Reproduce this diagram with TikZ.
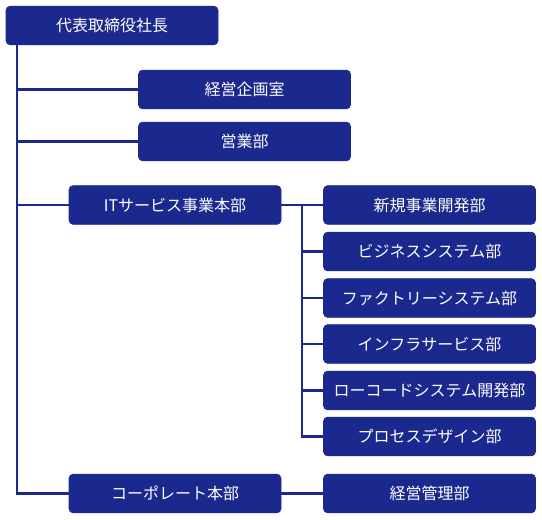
\documentclass[tikz,border=0pt]{standalone}
\usepackage{fontspec}
\setmainfont{Noto Sans CJK JP}
\definecolor{navy}{HTML}{1B288E}

\begin{document}
\begin{tikzpicture}[x=0.75pt, y=-0.75pt,
    box/.style={draw=navy, fill=navy, text=white, rounded corners=3pt, minimum width=159pt, minimum height=29pt, inner sep=0pt, font=\fontsize{12}{14}\selectfont},
    link/.style={draw=navy, line width=1.9pt}]
    \useasboundingbox (0,0) rectangle (542,520);

    \node[box] (ceo) at (112,25.5) {代表取締役社長};

    \node[box] (kikaku) at (244.5,89.5) {経営企画室};
    \node[box] (eigyo) at (244.5,141.5) {営業部};

    \node[box] (itsbu) at (175,205) {ITサービス事業本部};
    \node[box] (shinki) at (429.5,205) {新規事業開発部};
    \node[box] (bizsys) at (429.5,251.5) {ビジネスシステム部};
    \node[box] (factory) at (429.5,298) {ファクトリーシステム部};
    \node[box] (infra) at (429.5,344) {インフラサービス部};
    \node[box] (lowcode) at (429.5,390.5) {ローコードシステム開発部};
    \node[box] (process) at (429.5,436.5) {プロセスデザイン部};

    \node[box] (corp) at (175,493.5) {コーポレート本部};
    \node[box] (keiei) at (429.5,493.5) {経営管理部};

    % main line
    \coordinate (spine) at (17,45);
    \draw[link] (spine) |- (corp.west);
    \draw[link] (spine |- kikaku.west) -- (kikaku.west);
    \draw[link] (spine |- eigyo.west) -- (eigyo.west);
    \draw[link] (spine |- itsbu.west) -- (itsbu.west);

    % IT branch
    \draw[link] (itsbu.east) -- (shinki.west);
    \coordinate (sub) at (302,205);
    \draw[link] (sub) |- (process.west);
    \draw[link] (sub |- bizsys.west) -- (bizsys.west);
    \draw[link] (sub |- factory.west) -- (factory.west);
    \draw[link] (sub |- infra.west) -- (infra.west);
    \draw[link] (sub |- lowcode.west) -- (lowcode.west);

    % corporate branch
    \draw[link] (corp.east) -- (keiei.west);
\end{tikzpicture}
\end{document}
